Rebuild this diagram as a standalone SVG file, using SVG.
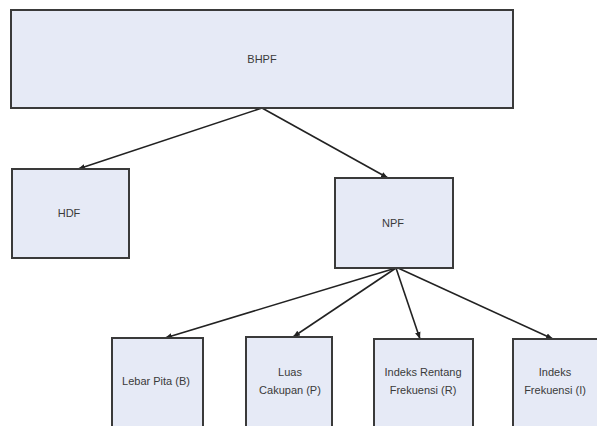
<svg xmlns="http://www.w3.org/2000/svg" width="597" height="426" viewBox="0 0 597 426">
  <defs>
    <marker id="arrow" viewBox="0 0 10 10" refX="10" refY="5" markerWidth="7" markerHeight="7" orient="auto" markerUnits="userSpaceOnUse">
      <path d="M0,1 L10,5 L0,9 z" fill="#222"/>
    </marker>
    <style>
      .box { fill: #e6eaf6; stroke: #3a3a3a; stroke-width: 2; }
      .lbl { font-family: "Liberation Sans", Arial, sans-serif; font-size: 11px; fill: #3a3a3a; text-anchor: middle; dominant-baseline: central; }
      .edge { stroke: #222; stroke-width: 1.6; fill: none; marker-end: url(#arrow); }
    </style>
  </defs>
  <rect width="597" height="426" fill="#ffffff"/>

  <g id="connectors">
    <line class="edge" x1="262" y1="108" x2="78" y2="169"/>
    <line class="edge" x1="262" y1="108" x2="388" y2="178"/>
    <line class="edge" x1="396" y1="268" x2="165" y2="338"/>
    <line class="edge" x1="396" y1="268" x2="293" y2="337"/>
    <line class="edge" x1="396" y1="268" x2="420" y2="339"/>
    <line class="edge" x1="398" y1="268" x2="553" y2="339"/>
  </g>

  <g id="bhpf">
    <rect class="box" x="11" y="10" width="502" height="98"/>
    <text class="lbl" x="262" y="59">BHPF</text>
  </g>

  <g id="hdf">
    <rect class="box" x="12" y="169" width="117" height="89"/>
    <text class="lbl" x="69" y="213">HDF</text>
  </g>

  <g id="npf">
    <rect class="box" x="335" y="178" width="118" height="90"/>
    <text class="lbl" x="393" y="223">NPF</text>
  </g>

  <g id="lebar-pita">
    <rect class="box" x="112" y="338" width="91" height="100"/>
    <text class="lbl" x="156" y="381">Lebar Pita (B)</text>
  </g>

  <g id="luas-cakupan">
    <rect class="box" x="246" y="337" width="86" height="100"/>
    <text class="lbl" x="290" y="372">Luas</text>
    <text class="lbl" x="290" y="390">Cakupan (P)</text>
  </g>

  <g id="indeks-rentang">
    <rect class="box" x="374" y="339" width="99" height="100"/>
    <text class="lbl" x="423" y="372">Indeks Rentang</text>
    <text class="lbl" x="423" y="390">Frekuensi (R)</text>
  </g>

  <g id="indeks-frekuensi">
    <rect class="box" x="513" y="339" width="90" height="100"/>
    <text class="lbl" x="555" y="372">Indeks</text>
    <text class="lbl" x="555" y="390">Frekuensi (I)</text>
  </g>
</svg>
